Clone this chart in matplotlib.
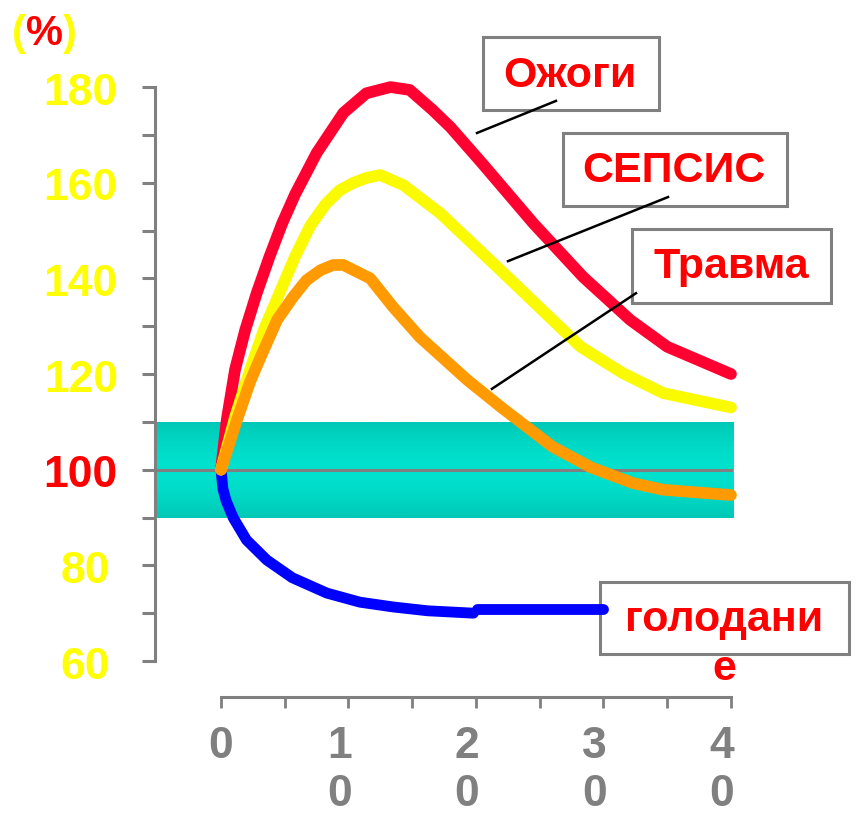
import numpy as np
import matplotlib.pyplot as plt
from matplotlib.patches import Rectangle
from matplotlib.transforms import offset_copy

plt.rcParams['font.family'] = ['Liberation Sans', 'DejaVu Sans']
plt.rcParams['font.weight'] = 'bold'

# days after the event, level in % of normal
burns_days = [0, 0.45, 1.1, 1.9, 2.8, 3.8, 4.8, 5.8, 7.5, 9.6, 11.4, 13.3, 14.8, 16.6,
              18, 20.5, 24.5, 28.4, 32.1, 35, 40]
burns = [100, 110.4, 120.9, 129.2, 136.9, 144.5, 151.5, 157.5, 166.2, 174.6, 178.7, 180,
         179.4, 175.2, 171.6, 164, 151.5, 140.3, 131.3, 125.7, 120]

sepsis_days = [0, 1.1, 2.3, 3.4, 4.6, 5.8, 7.0, 8.2, 9.3, 10.4, 11.4, 12.5, 14.3, 17.2,
               22.2, 28.2, 31.5, 34.7, 40]
sepsis = [100, 111, 121, 129.5, 137, 144.5, 151, 155.5, 158.4, 160, 161, 161.6, 159.5,
          153.6, 141, 125.7, 120.2, 116, 113]

trauma_days = [0, 1.25, 2.3, 3.1, 4.4, 5.65, 6.7, 7.8, 8.8, 9.6, 11.7, 13.5, 15.6, 19.3,
               22, 26, 29, 32.3, 34.7, 40]
trauma = [100, 110.4, 118.5, 123.5, 131.3, 136.1, 139.6, 141.7, 142.8, 142.8, 140, 134,
          127.7, 118.8, 113, 104.8, 100.5, 97.2, 95.8, 94.7]

fasting_days = [0, 0.15, 0.4, 0.95, 2.0, 3.6, 5.6, 8.3, 10.9, 13.5, 16.2, 19.8]
fasting = [100, 96, 93.5, 90, 85.3, 81.1, 77.4, 74.2, 72.3, 71.3, 70.5, 70.0]
fasting_tail_days = [20.1, 30]
fasting_tail = [70.8, 70.8]

normal_low, normal_high = 90, 110

y_ticks = [60, 80, 100, 120, 140, 160, 180]
y_labels = ['60', '80', '100', '120', '140', '160', '180']
x_ticks = [0, 10, 20, 30, 40]
x_labels = ['0', '1\n0', '2\n0', '3\n0', '4\n0']

GRAY = '#808080'
RED = '#FF0000'
YELLOW = '#FFFF00'
Y_SPINE = -5.18
X_SPINE = 52.5

fig = plt.figure(figsize=(8.56, 8.22), dpi=100)
ax = fig.add_axes([0, 0, 1, 1])
ax.patch.set_alpha(0)

# normal corridor with a soft vertical gradient
edge = np.array([0, 200, 182]) / 255
mid = np.array([0, 226, 206]) / 255
s = np.abs(np.linspace(-1, 1, 80))[:, None, None] ** 1.6
grad = mid + (edge - mid) * s
ax.imshow(grad, extent=[Y_SPINE, 40.16, normal_low, normal_high], aspect='auto',
          interpolation='bilinear', zorder=1)
ax.plot([Y_SPINE, 40], [100, 100], color=GRAY, lw=2.2, zorder=1.5)

ax.plot(fasting_days, fasting, color='#0000FF', lw=7.8, solid_capstyle='round',
        solid_joinstyle='round', zorder=3)
ax.plot(fasting_tail_days, fasting_tail, color='#0000FF', lw=7.8, solid_capstyle='round', zorder=3)
ax.plot(burns_days, burns, color='#FF0030', lw=8.4, solid_capstyle='round',
        solid_joinstyle='round', zorder=4)
ax.plot(sepsis_days, sepsis, color='#FAFA00', lw=8.4, solid_capstyle='round',
        solid_joinstyle='round', zorder=5)
ax.plot(trauma_days, trauma, color='#FF9A00', lw=8.4, solid_capstyle='round',
        solid_joinstyle='round', zorder=6)

ax.set_xlim(-17.333, 49.804)
ax.set_ylim(26.34, 198.2)

# axes: detached left and bottom spines
for side in ['top', 'right']:
    ax.spines[side].set_visible(False)
ax.spines['left'].set_position(('data', Y_SPINE))
ax.spines['left'].set_bounds(60, 180)
ax.spines['bottom'].set_position(('data', X_SPINE))
ax.spines['bottom'].set_bounds(0, 40)
for side in ['left', 'bottom']:
    ax.spines[side].set_color(GRAY)
    ax.spines[side].set_linewidth(2.2)

ax.set_yticks(y_ticks, [])
ax.set_yticks(range(70, 180, 20), minor=True)
ax.set_xticks(x_ticks, [])
ax.set_xticks([5, 15, 25, 35], minor=True)
ax.tick_params(axis='y', which='both', direction='out', length=9.4, width=2.2, color=GRAY)
ax.tick_params(axis='x', which='both', direction='out', length=8, width=2, color=GRAY)

# value labels next to the axes
for y, lab in zip(y_ticks, y_labels):
    dx = -37 if len(lab) == 3 else -45
    tr = offset_copy(ax.transData, fig=fig, x=dx, y=-17.5, units='dots')
    ax.text(Y_SPINE, y, lab, transform=tr, ha='right', va='baseline', fontsize=32,
            color=RED if y == 100 else YELLOW)

for x, lab in zip(x_ticks, x_labels):
    dx = 0 if '\n' not in lab else -9
    tr = offset_copy(ax.transData, fig=fig, x=dx, y=-29.5, units='dots')
    ax.text(x, X_SPINE, lab, transform=tr, ha='center', va='top', fontsize=32,
            color=GRAY, linespacing=1.2)


def callout(text, x0, x1, y0, y1, tx, ty, z=7):
    ax.add_patch(Rectangle((x0, y0), x1 - x0, y1 - y0, fc='white', ec=GRAY,
                           lw=2.2, zorder=z))
    ax.text(tx, ty, text, color=RED, fontsize=31, ha='center', va='baseline',
            zorder=z + 0.1)


callout('Ожоги', 20.55, 34.35, 175.2, 190.45, 27.37, 180.0)
callout('СЕПСИС', 26.82, 44.39, 155.1, 170.4, 35.53, 160.2)
callout('Травма', 32.24, 47.84, 134.8, 150.3, 40.04, 140.0)
callout('голодани', 29.73, 49.25, 61.4, 76.5, 39.45, 66.3, z=2.5)
ax.text(39.45, 56.0, 'е', color=RED, fontsize=31, ha='center', va='baseline')

# pointer lines from the labels to the curves
ax.plot([26.27, 20.08], [177.1, 170.4], color='black', lw=1.8, zorder=8)
ax.plot([35.06, 22.51], [157.0, 143.6], color='black', lw=1.8, zorder=8)
ax.plot([32.55, 21.25], [136.9, 116.9], color='black', lw=1.8, zorder=8)

# unit label: yellow brackets, red percent sign
t1 = fig.text(12 / 856, 1 - 34 / 822, '(', color=YELLOW, fontsize=30, va='center')
t2 = ax.annotate('%', xy=(1, 0), xycoords=t1, va='bottom', color=RED, fontsize=30)
ax.annotate(')', xy=(1, 0), xycoords=t2, va='bottom', color=YELLOW, fontsize=30)

fig.savefig('out.png', dpi=100, facecolor='white')
